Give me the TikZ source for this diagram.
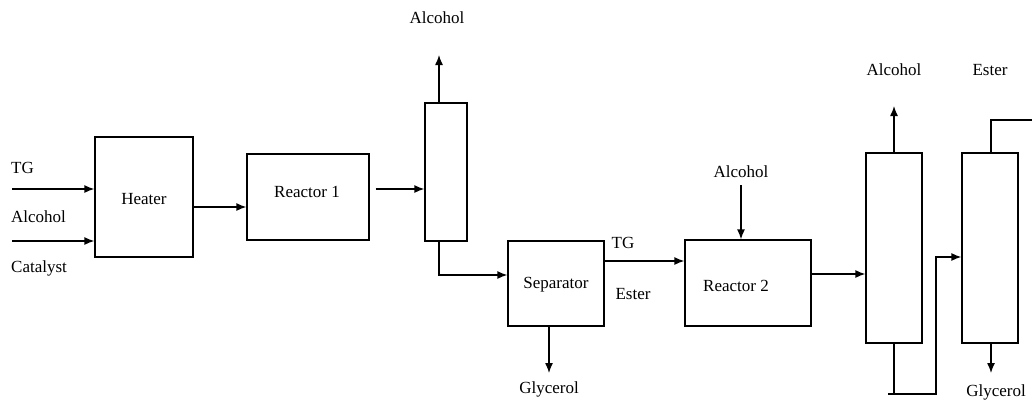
\documentclass[tikz,border=0pt]{standalone}
\usepackage{fontspec}
\setmainfont{Liberation Serif}
\usetikzlibrary{arrows.meta}
\begin{document}
\begin{tikzpicture}[x=1pt,y=-1pt,
  box/.style={draw, line width=1.3pt, inner sep=0pt},
  lbl/.style={font=\fontsize{17}{19}\selectfont, inner sep=0pt},
  arr/.style={line width=1.3pt, -{Latex[length=10pt,width=8pt]}},
  ln/.style={line width=1.3pt}]
\useasboundingbox (0,0) rectangle (1032,402);
% boxes
\node[box, minimum width=98pt, minimum height=120pt] (heater) at (144,197) {};
\node[lbl] (heaterT) at (144,199) {Heater};
\node[box, minimum width=122pt, minimum height=86pt] (reactor1) at (308,197) {};
\node[lbl] (reactor1T) at (307,192) {Reactor 1};
\node[box, minimum width=42pt, minimum height=138pt] (col1) at (446,172) {};
\node[box, minimum width=96pt, minimum height=85pt] (sep) at (556,283.5) {};
\node[lbl] (sepT) at (556,285) {Separator};
\node[box, minimum width=126pt, minimum height=86pt] (reactor2) at (748,283) {};
\node[lbl] (reactor2T) at (736,286) {Reactor 2};
\node[box, minimum width=56pt, minimum height=190pt] (col2) at (894,248) {};
\node[box, minimum width=56pt, minimum height=190pt] (col3) at (990,248) {};
% labels
\node[lbl, anchor=west] (tg1) at (11,168) {TG};
\node[lbl, anchor=west] (alc1) at (11,217) {Alcohol};
\node[lbl, anchor=west] (cat1) at (11,268) {Catalyst};
\node[lbl] (alc2) at (437,18) {Alcohol};
\node[lbl] (tg2) at (623,243) {TG};
\node[lbl] (est1) at (633,294) {Ester};
\node[lbl] (alc3) at (741,172) {Alcohol};
\node[lbl] (gly1) at (549,389) {Glycerol};
\node[lbl] (alc4) at (894,70) {Alcohol};
\node[lbl] (est2) at (990,70) {Ester};
\node[lbl] (gly2) at (996,392) {Glycerol};
% coordinates
\coordinate (tgin) at (12,189);
\coordinate (alin) at (12,241);
\coordinate (c1top) at (439,55);
\coordinate (c1bot) at (439,275);
\coordinate (alc3s) at (741,185);
\coordinate (gly1e) at (549,373);
\coordinate (c2top) at (894,106);
\coordinate (c2bot) at (894,394);
\coordinate (c2botL) at (888,394);
\coordinate (c3feed) at (936,257);
\coordinate (c3top) at (991,120);
\coordinate (c3out) at (1032,120);
\coordinate (gly2e) at (991,373);
% connectors
\draw[arr] (tgin) -- (tgin -| heater.west);
\draw[arr] (alin) -- (alin -| heater.west);
\draw[arr] (heater.east |- 0,207) -- (reactor1.west |- 0,207);
\draw[arr] ([xshift=6pt]reactor1.east |- 0,189) -- (col1.west |- 0,189);
\draw[arr] (c1top |- col1.north) -- (c1top);
\draw[arr] (c1top |- col1.south) -- (c1bot) -- (c1bot -| sep.west);
\draw[arr] (sep.east |- 0,261) -- (reactor2.west |- 0,261);
\draw[arr] (alc3s) -- (alc3s |- reactor2.north);
\draw[arr] (gly1e |- sep.south) -- (gly1e);
\draw[arr] (reactor2.east |- 0,274) -- (col2.west |- 0,274);
\draw[arr] (col2.north) -- (c2top);
\draw[ln] (col2.south) -- (c2bot);
\draw[arr] (c2botL) -- (c2botL -| c3feed) -- (c3feed) -- (c3feed -| col3.west);
\draw[ln] (c3top |- col3.north) -- (c3top) -- (c3out);
\draw[arr] (gly2e |- col3.south) -- (gly2e);
\end{tikzpicture}
\end{document}
